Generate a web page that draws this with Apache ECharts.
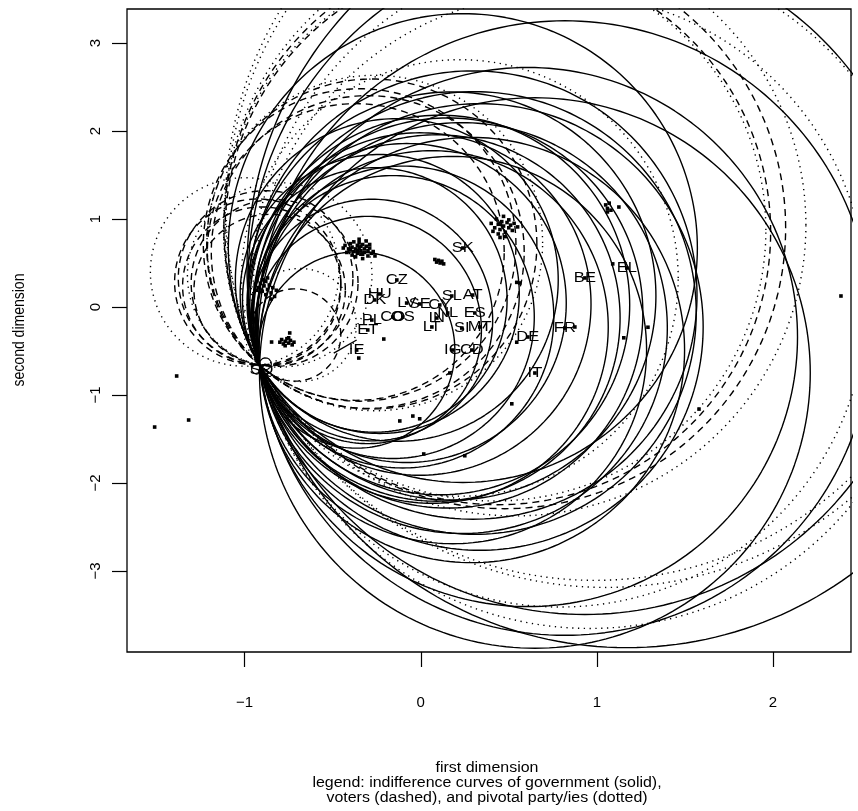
<!DOCTYPE html>
<html><head><meta charset="utf-8">
<script src="https://cdn.jsdelivr.net/npm/echarts@6/dist/echarts.min.js"></script>
<style>html,body{margin:0;padding:0;background:#fff}#c{width:858px;height:811px}</style>
</head><body><div id="c"></div>
<script>
// Status quo point (all indifference curves pass through it)
const SQ = [-0.915, -0.659];
// Government ideal points (solid curves) with labels
const govLabels = ['SK','CZ','HU','DK','LV','SE','PL','CO','OS','ET','IE','CY','SL','AT','NL','IN','ES','LT','SI','MT','IG','CD','DE','FR','IT','BE','EL'];
const govX = [0.239,-0.136,-0.233,-0.261,-0.080,-0.006,-0.278,-0.159,-0.102,-0.301,-0.364,0.108,0.176,0.295,0.153,0.091,0.307,0.063,0.233,0.335,0.182,0.290,0.608,0.818,0.648,0.932,1.170];
const govY = [0.670,0.307,0.148,0.080,0.045,0.034,-0.148,-0.114,-0.114,-0.261,-0.489,0.023,0.125,0.136,-0.068,-0.125,-0.068,-0.227,-0.239,-0.227,-0.489,-0.489,-0.341,-0.239,-0.750,0.330,0.443];
// extra small government curves right next to SQ
const govExtraX = [-0.932, -0.882];
const govExtraY = [-0.705, -0.645];
// Voters' ideal points (dashed curves)
const voterX = [-0.926,-0.903,-0.858,-0.830,-0.881,-0.347,-0.301,-0.369,-0.278,0.477,0.4375,-0.716];
const voterY = [0.284,0.239,0.193,0.273,0.330,0.705,0.625,0.625,0.716,0.898,0.852,-0.318];
// Pivotal parties' ideal points (dotted curves)
const pivX = [-1.0,-0.6875,-0.261,0.222,0.420,0.534,1.051,0.790,0.960,-0.801,0.989];
const pivY = [0.398,-0.205,0.727,0.330,0.875,0.932,1.136,0.080,0.193,0.364,1.080];
// Scatter of simulated ideal points
const cloudA = [[-0.43,0.70],[-0.41,0.66],[-0.40,0.72],[-0.39,0.68],[-0.38,0.63],[-0.38,0.74],[-0.37,0.66],[-0.36,0.70],[-0.36,0.61],[-0.35,0.67],[-0.35,0.73],[-0.34,0.64],[-0.34,0.69],[-0.33,0.60],[-0.33,0.71],[-0.32,0.66],[-0.32,0.62],[-0.31,0.69],[-0.30,0.64],[-0.30,0.58],[-0.29,0.67],[-0.28,0.61],[-0.27,0.63],[-0.37,0.57],[-0.42,0.62],[-0.44,0.67],[-0.35,0.77],[-0.31,0.75],[-0.29,0.71],[-0.33,0.55],[-0.39,0.59],[-0.26,0.58],[-0.36,0.64],[-0.34,0.60],[-0.40,0.65]];
const cloudB = [[0.40,0.95],[0.42,0.90],[0.43,1.00],[0.44,0.94],[0.45,0.88],[0.46,0.97],[0.47,0.92],[0.48,0.85],[0.49,0.96],[0.50,0.90],[0.51,0.93],[0.52,0.87],[0.44,0.83],[0.47,1.03],[0.53,0.95],[0.41,0.86],[0.48,0.80],[0.50,0.99],[0.45,0.79],[0.55,0.91],[0.5625,0.273],[0.545,0.28]];
const cloudC = [[-0.94,0.26],[-0.93,0.30],[-0.92,0.22],[-0.91,0.27],[-0.90,0.18],[-0.89,0.24],[-0.88,0.29],[-0.87,0.20],[-0.86,0.25],[-0.85,0.16],[-0.84,0.22],[-0.83,0.12],[-0.90,0.31],[-0.87,0.33],[-0.93,0.19],[-0.82,0.19],[-0.85,0.09],[-0.88,0.14]];
const cloudD = [[-0.80,-0.40],[-0.79,-0.37],[-0.78,-0.42],[-0.77,-0.39],[-0.76,-0.36],[-0.75,-0.41],[-0.74,-0.38],[-0.73,-0.43],[-0.72,-0.40],[-0.77,-0.44],[-0.75,-0.35]];
const cloudE = [[0.08,0.54],[0.09,0.51],[0.10,0.53],[0.11,0.50],[0.12,0.52],[0.13,0.49]];
const cloudF = [[1.05,1.16],[1.06,1.12],[1.07,1.18],[1.08,1.10],[1.06,1.08],[1.125,1.136]];
const singles = [[-1.386,-0.784],[-1.318,-1.284],[-1.511,-1.364],[2.386,0.125],[1.29,-0.23],[1.153,-0.35],[0.517,-1.10],[0.25,-1.69],[0.017,-1.67],[1.58,-1.16],[0.165,-0.75],[0.545,-0.40],[-0.119,-1.295],[-0.045,-1.239],[-0.006,-1.27],[-0.21,-0.364],[-0.352,-0.58],[-0.744,-0.295],[-0.847,-0.398],[1.09,0.49],[0.875,-0.227]];
// arrow segment near IE
const ieSegX = [-0.494, -0.364];
const ieSegY = [-0.523, -0.375];
// axis ticks
const xTicks = [-1, 0, 1, 2];
const yTicks = [-3, -2, -1, 0, 1, 2, 3];

// weight ratio of the two dimensions (second dimension counts half)
const K = 2;
function curve(cx, cy) {
  const d = Math.sqrt((cx - SQ[0]) ** 2 + ((cy - SQ[1]) / K) ** 2);
  const pts = [];
  const n = 240;
  for (let i = 0; i <= n; i++) {
    const t = 2 * Math.PI * i / n;
    pts.push([cx + d * Math.cos(t), cy + K * d * Math.sin(t)]);
  }
  return pts;
}
const FONT = '"Liberation Sans", Arial, sans-serif';
const series = [];
function addCurves(xs, ys, type, w) {
  for (let i = 0; i < xs.length; i++) {
    series.push({
      type: 'line', data: curve(xs[i], ys[i]), showSymbol: false, silent: true,
      clip: true, animation: false,
      lineStyle: { color: '#000', width: w, type: type }
    });
  }
}
addCurves(pivX, pivY, [1.3, 4.5], 1.4);
addCurves(voterX, voterY, [7, 5], 1.4);
addCurves(govX, govY, 'solid', 1.4);
addCurves(govExtraX, govExtraY, 'solid', 1.2);
series.push({
  type: 'line', data: ieSegX.map((x, i) => [x, ieSegY[i]]), showSymbol: false, silent: true,
  animation: false, lineStyle: { color: '#000', width: 1.4 }
});
series.push({
  type: 'scatter', data: [].concat(cloudA, cloudB, cloudC, cloudD, cloudE, cloudF, singles),
  symbol: 'rect', symbolSize: 3.6, itemStyle: { color: '#000', opacity: 1 }, silent: true, animation: false
});
series.push({
  type: 'scatter', symbol: 'rect', symbolSize: 3.6, itemStyle: { color: '#000', opacity: 1 }, silent: true, animation: false,
  data: govX.map((x, i) => [x, govY[i]])
});
const allLabels = govLabels.concat(['SQ']);
const allLabelPos = govX.map((x, i) => [x, govY[i]]).concat([[SQ[0] + 0.01, SQ[1] - 0.06]]);
series.push({
  type: 'custom', silent: true, animation: false,
  data: allLabelPos,
  renderItem: function (params, api) {
    const p = api.coord([api.value(0), api.value(1)]);
    return {
      type: 'text', x: p[0], y: p[1], scaleX: 1.18,
      style: { text: allLabels[params.dataIndex], fill: '#000', font: '14px ' + FONT, textAlign: 'center', textVerticalAlign: 'middle' }
    };
  }
});

const fmt = v => (v < 0 ? '\u2212' + Math.abs(v) : String(v));
const chart = echarts.init(document.getElementById('c'), null, { renderer: 'canvas' });
const txt = (t, x, y, rot) => ({
  type: 'text', x: x, y: y, rotation: rot || 0, scaleX: rot ? 1 : 1.14, scaleY: rot ? 1.14 : 1,
  style: { text: t, font: '14px ' + FONT, fill: '#000', textAlign: 'center', textVerticalAlign: 'middle' }
});
chart.setOption({
  animation: false,
  backgroundColor: '#fff',
  grid: { left: 127, right: 7, top: 9, bottom: 159, show: true, borderColor: '#000', borderWidth: 1.3, backgroundColor: 'transparent' },
  xAxis: {
    type: 'value', min: -1.668, max: 2.443,
    axisLine: { show: false, onZero: false },
    splitLine: { show: false },
    axisTick: { show: true, inside: false, length: 15, customValues: xTicks, lineStyle: { color: '#000', width: 1.2 } },
    axisLabel: { show: true, customValues: xTicks, formatter: fmt, margin: 43, color: '#000', fontSize: 15, fontFamily: FONT }
  },
  yAxis: {
    type: 'value', min: -3.92, max: 3.386,
    axisLine: { show: false, onZero: false },
    splitLine: { show: false },
    axisTick: { show: true, inside: false, length: 15, customValues: yTicks, lineStyle: { color: '#000', width: 1.2 } },
    axisLabel: { show: true, customValues: yTicks, formatter: fmt, rotate: 90, margin: 24, color: '#000', fontSize: 15, fontFamily: FONT }
  },
  graphic: [
    txt('first dimension', 487, 768),
    txt('legend: indifference curves of government (solid),', 487, 783),
    txt('voters (dashed), and pivotal party/ies (dotted)', 487, 798),
    txt('second dimension', 20, 330, Math.PI / 2)
  ],
  series: series
});
</script></body></html>
